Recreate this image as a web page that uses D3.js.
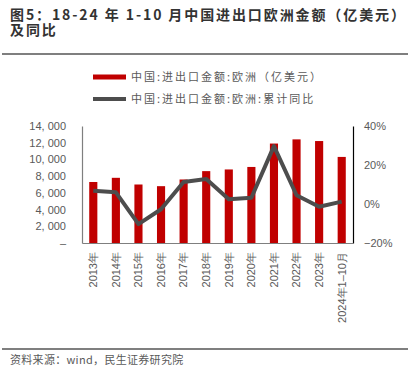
<!DOCTYPE html>
<html>
<head>
<meta charset="utf-8">
<script src="https://cdn.jsdelivr.net/npm/d3@7"></script>
<style>
  body { margin: 0; background: #fff; }
  svg { display: block; }
</style>
</head>
<body>
<div id="chart"></div>
<script>
// --- data ---
const years = ['2013年', '2014年', '2015年', '2016年', '2017年', '2018年', '2019年',
  '2020年', '2021年', '2022年', '2023年', '2024年1–10月']
const amount = [7300, 7800, 7000, 6800, 7600, 8600, 8800, 9100, 11900, 12400, 12200, 10300]
const yoy = [6.8, 6.0, -10.3, -2.7, 11.3, 12.8, 2.4, 3.2, 29.7, 4.5, -1.4, 1.2]
const leftTicks = [0, 2000, 4000, 6000, 8000, 10000, 12000, 14000]
const rightTicks = [-20, 0, 20, 40]

const width = 413
const height = 368
const margin = { left: 82, right: 60, top: 126, bottom: 125 }
const x0 = margin.left, x1 = width - margin.right
const y0 = height - margin.bottom, y1 = margin.top

const cjk = '"Noto Sans CJK SC", "Noto Sans", sans-serif'
const latin = '"Liberation Sans", Arial, sans-serif'
const grey = '#595959'

const svg = d3.select('#chart').append('svg')
  .attr('width', width)
  .attr('height', height)

// --- title ---
const titleLines = ['图5：18-24 年 1-10 月中国进出口欧洲金额（亿美元）', '及同比']
svg.append('g').selectAll('text')
  .data(titleLines)
  .join('text')
    .attr('x', 10)
    .attr('y', (d, i) => 20 + i * 15)
    .attr('font-family', cjk)
    .attr('font-weight', 'bold')
    .attr('font-size', 14)
    .attr('letter-spacing', 1.9)
    .attr('fill', '#333')
    .text(d => d)

svg.append('line')
  .attr('x1', 2).attr('x2', 408).attr('y1', 54).attr('y2', 54)
  .attr('stroke', '#555').attr('stroke-width', 1.5)

// --- scales ---
const x = d3.scaleBand().domain(years).range([x0, x1]).paddingInner(0.64).paddingOuter(0.32)
const yL = d3.scaleLinear().domain([0, 14000]).range([y0, y1])
const yR = d3.scaleLinear().domain([-20, 40]).range([y0, y1])

// --- bars ---
svg.append('g')
  .selectAll('rect')
  .data(amount)
  .join('rect')
    .attr('x', (d, i) => x(years[i]))
    .attr('y', d => yL(d))
    .attr('width', x.bandwidth())
    .attr('height', d => y0 - yL(d))
    .attr('fill', '#c00000')

// --- line ---
const line = d3.line()
  .x((d, i) => x(years[i]) + x.bandwidth() / 2)
  .y(d => yR(d))

svg.append('path')
  .datum(yoy)
  .attr('d', line)
  .attr('fill', 'none')
  .attr('stroke', '#4d4d4d')
  .attr('stroke-width', 4)
  .attr('stroke-linejoin', 'round')

// --- axes ---
const fmt = d => d === 0 ? '–' : d3.format(',')(d).replace(',', ', ')
const left = svg.append('g')
  .attr('transform', `translate(${x0},0)`)
  .call(d3.axisLeft(yL).tickValues(leftTicks).tickFormat(fmt).tickSize(0).tickPadding(16))
left.select('.domain').attr('stroke', '#7f7f7f').attr('stroke-width', 1.2)
left.selectAll('text').attr('font-family', latin).attr('font-size', 11).attr('fill', grey)

const right = svg.append('g')
  .attr('transform', `translate(${x1},0)`)
  .call(d3.axisRight(yR).tickValues(rightTicks).tickFormat(d => (d < 0 ? '−' + (-d) : d) + '%').tickSize(0).tickPadding(11))
right.select('.domain').attr('stroke', '#000').attr('stroke-width', 1.2)
right.selectAll('text').attr('font-family', latin).attr('font-size', 11).attr('fill', grey)

const bottom = svg.append('g')
  .attr('transform', `translate(0,${y0})`)
  .call(d3.axisBottom(x).tickSize(0).tickPadding(0))
bottom.select('.domain').attr('stroke', '#7f7f7f').attr('stroke-width', 1.2)
bottom.selectAll('text')
  .attr('font-family', latin)
  .attr('font-size', 11)
  .attr('fill', grey)
  .attr('transform', 'rotate(-90)')
  .attr('text-anchor', 'end')
  .attr('dy', '0.35em')
  .attr('x', -9)
  .attr('y', 0)

// --- legend ---
const legendItems = [
  { label: '中国:进出口金额:欧洲（亿美元）', color: '#c00000', w: 5, y: 77 },
  { label: '中国:进出口金额:欧洲:累计同比', color: '#4d4d4d', w: 4, y: 99 }
]
const legend = svg.append('g').selectAll('g').data(legendItems).join('g')
legend.append('line')
  .attr('x1', 93).attr('x2', 126)
  .attr('y1', d => d.y).attr('y2', d => d.y)
  .attr('stroke', d => d.color)
  .attr('stroke-width', d => d.w)
legend.append('text')
  .attr('x', 131).attr('y', d => d.y + 4)
  .attr('font-family', cjk)
  .attr('font-size', 11)
  .attr('letter-spacing', 2)
  .attr('fill', grey)
  .text(d => d.label)

// --- footer ---
svg.append('line')
  .attr('x1', 2).attr('x2', 408).attr('y1', 349).attr('y2', 349)
  .attr('stroke', '#555').attr('stroke-width', 1.5)
svg.append('text')
  .attr('x', 10).attr('y', 364)
  .attr('font-family', cjk)
  .attr('font-size', 11)
  .attr('letter-spacing', 0.3)
  .attr('fill', grey)
  .text('资料来源：wind，民生证券研究院')
</script>
</body>
</html>
